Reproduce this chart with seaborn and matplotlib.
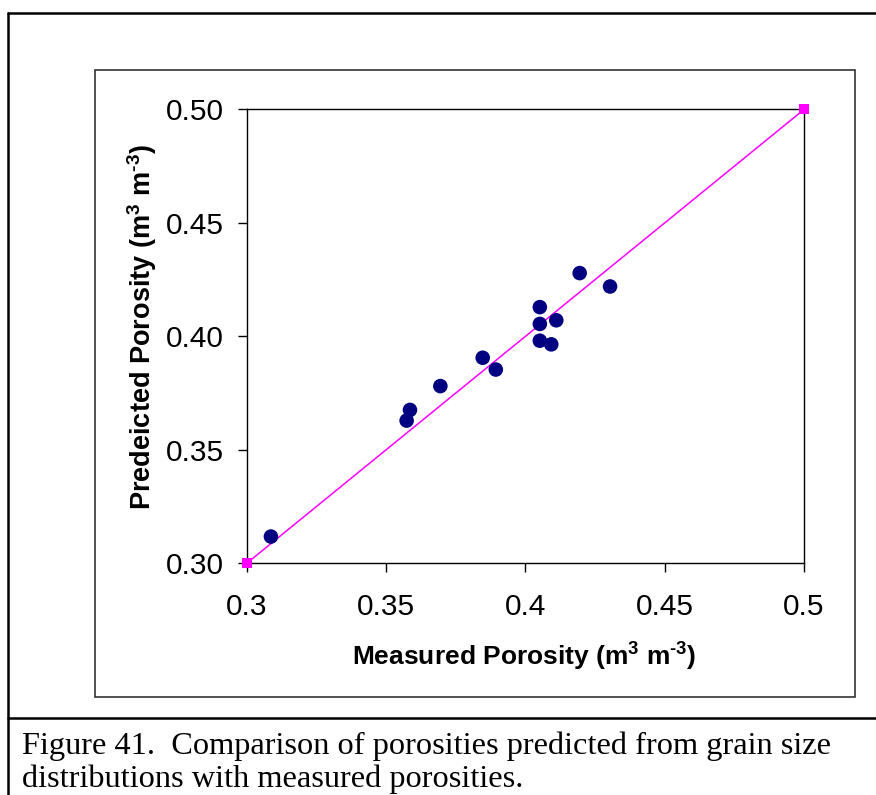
# measured vs predicted porosity, 1:1 line

import pandas as pd
import seaborn as sns
import matplotlib.pyplot as plt
from matplotlib.patches import Rectangle
from matplotlib.lines import Line2D

# datos
measured = [0.3087, 0.3586, 0.3574, 0.3695, 0.3847, 0.3894, 0.4052, 0.4052,
            0.4052, 0.4093, 0.4111, 0.4195, 0.4304]
predicted = [0.3118, 0.3676, 0.3629, 0.3781, 0.3906, 0.3854, 0.4129, 0.4055,
             0.3981, 0.3965, 0.4071, 0.4279, 0.4220]
line_x = [0.3, 0.5]
line_y = [0.3, 0.5]
x_ticks = [0.3, 0.35, 0.4, 0.45, 0.5]
x_labels = ["0.3", "0.35", "0.4", "0.45", "0.5"]
y_ticks = [0.30, 0.35, 0.40, 0.45, 0.50]
y_labels = ["0.30", "0.35", "0.40", "0.45", "0.50"]

df = pd.DataFrame({"measured": measured, "predicted": predicted})
df_line = pd.DataFrame({"x": line_x, "y": line_y})

sns.set_style("white")
plt.rcParams["font.family"] = ["Liberation Sans", "DejaVu Sans"]
plt.rcParams["mathtext.fontset"] = "custom"
plt.rcParams["mathtext.rm"] = "Liberation Sans:bold"
plt.rcParams["mathtext.it"] = "Liberation Sans:bold"
plt.rcParams["mathtext.bf"] = "Liberation Sans:bold"
for k in ["text.color", "axes.labelcolor", "xtick.color", "ytick.color"]:
    plt.rcParams[k] = "black"

fig = plt.figure(figsize=(8.76, 7.95), dpi=100)
ax = fig.add_axes([0.2816, 0.2914, 0.6362, 0.5709])

# linea 1:1
sns.lineplot(data=df_line, x="x", y="y", ax=ax, color="#FF00FF", linewidth=1.1,
             marker="s", markersize=7, markeredgewidth=0, clip_on=False, zorder=3)

# puntos
sns.scatterplot(data=df, x="measured", y="predicted", ax=ax, color="#000080",
                s=110, edgecolor="none", zorder=4)

ax.set_xlim(0.3, 0.5)
ax.set_ylim(0.3, 0.5)
ax.set_xticks(x_ticks)
ax.set_xticklabels(x_labels)
ax.set_yticks(y_ticks)
ax.set_yticklabels(y_labels)
ax.tick_params(direction="out", length=6.5, width=1, labelsize=21.5,
               bottom=True, left=True)
ax.tick_params(axis="x", pad=15)
ax.tick_params(axis="y", pad=10)
for s in ax.spines.values():
    s.set_color("black")
    s.set_linewidth(1)

ax.set_xlabel(r"Measured Porosity (m$^{3}$ m$^{\text{-}3}$)", fontsize=19,
              fontweight="bold")
ax.set_ylabel(r"Predeicted Porosity (m$^{3}$ m$^{\text{-}3}$)", fontsize=19.5,
              fontweight="bold")
ax.xaxis.set_label_coords(0.4985, -0.171)
ax.yaxis.set_label_coords(-0.158, 0.52)

# marcos del documento
W, H = 876, 795
fig.add_artist(Rectangle((95 / W, 1 - 697 / H), 760 / W, 627 / H,
                         transform=fig.transFigure, fill=False,
                         edgecolor="#333333", linewidth=1.2))
fig.add_artist(Line2D([8 / W, 8 / W], [0, 1 - 13 / H], transform=fig.transFigure,
                      color="black", linewidth=1.8))
fig.add_artist(Line2D([8 / W, 1], [1 - 13 / H, 1 - 13 / H], transform=fig.transFigure,
                      color="black", linewidth=1.8))
fig.add_artist(Line2D([8 / W, 1], [1 - 718 / H, 1 - 718 / H], transform=fig.transFigure,
                      color="black", linewidth=1.8))

fig.text(22 / W, 1 - 746 / H, "Figure 41.  Comparison of porosities predicted from grain size",
         fontsize=23.3, family=["Liberation Serif", "DejaVu Serif"], va="center")
fig.text(22 / W, 1 - 779 / H, "distributions with measured porosities.",
         fontsize=23.3, family=["Liberation Serif", "DejaVu Serif"], va="center")

fig.savefig("out.png", dpi=100)
